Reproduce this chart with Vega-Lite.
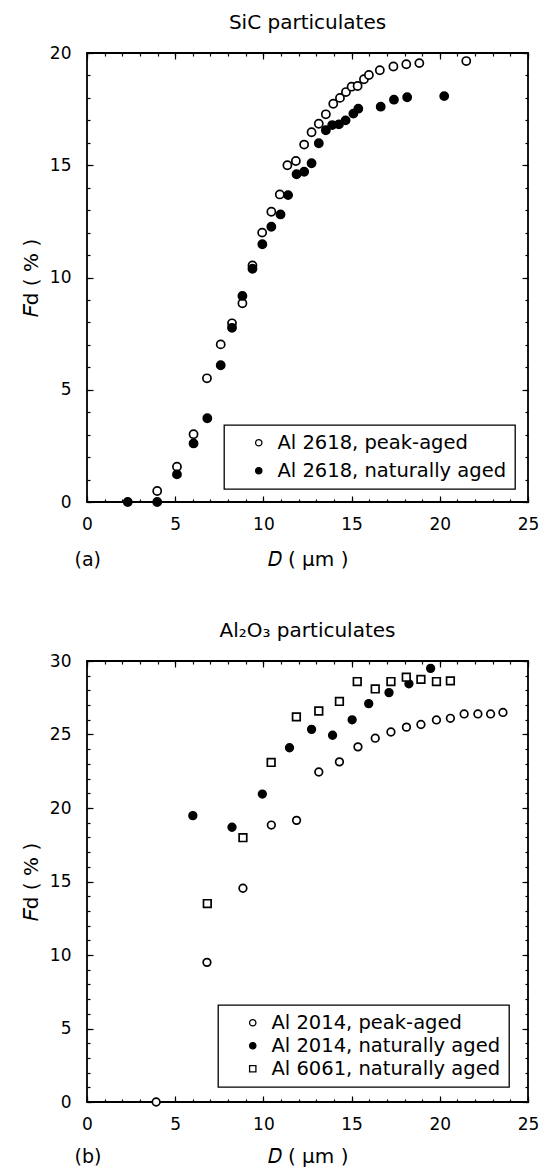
{
  "$schema": "https://vega.github.io/schema/vega-lite/v6.json",
  "padding": {"left": 20, "top": 12, "right": 0, "bottom": 0},
  "background": "white",
  "spacing": 50,
  "resolve": {"scale": {"fill": "independent", "shape": "independent", "stroke": "independent"}, "legend": {"fill": "independent", "shape": "independent", "stroke": "independent"}},
  "config": {
    "font": "DejaVu Sans",
    "view": {"stroke": "black", "strokeWidth": 1.8},
    "axis": {
      "domain": false, "grid": false, "tickColor": "black", "tickWidth": 1.2,
      "labelFont": "DejaVu Sans", "labelFontSize": 17, "labelColor": "black",
      "titleFont": "DejaVu Sans", "titleFontSize": 20, "titleFontWeight": "normal", "titleColor": "black",
      "labelFlush": false, "labelOverlap": false
    },
    "legend": {
      "title": null, "orient": "none", "strokeColor": "black", "fillColor": "white", "strokeWidth": 1.3,
      "padding": 8, "symbolOffset": 17, "labelOffset": 9, "symbolSize": 40,
      "symbolStrokeColor": "black", "symbolStrokeWidth": 1.3,
      "labelFontSize": 19.5, "labelFont": "DejaVu Sans", "labelColor": "black", "labelLimit": 400
    },
    "title": {"font": "DejaVu Sans", "fontSize": 20, "fontWeight": "normal", "color": "black", "offset": 11}
  },
  "vconcat": [
    {
      "title": "SiC particulates",
      "width": 441,
      "height": 449,
      "data": {"values": [
        {"D": 3.98, "F": 0.49, "s": "Al 2618, peak-aged"},
        {"D": 5.1, "F": 1.57, "s": "Al 2618, peak-aged"},
        {"D": 6.04, "F": 3.02, "s": "Al 2618, peak-aged"},
        {"D": 6.8, "F": 5.51, "s": "Al 2618, peak-aged"},
        {"D": 7.58, "F": 7.02, "s": "Al 2618, peak-aged"},
        {"D": 8.22, "F": 7.96, "s": "Al 2618, peak-aged"},
        {"D": 8.81, "F": 8.85, "s": "Al 2618, peak-aged"},
        {"D": 9.38, "F": 10.54, "s": "Al 2618, peak-aged"},
        {"D": 9.93, "F": 12.0, "s": "Al 2618, peak-aged"},
        {"D": 10.45, "F": 12.93, "s": "Al 2618, peak-aged"},
        {"D": 10.93, "F": 13.7, "s": "Al 2618, peak-aged"},
        {"D": 11.36, "F": 15.0, "s": "Al 2618, peak-aged"},
        {"D": 11.84, "F": 15.19, "s": "Al 2618, peak-aged"},
        {"D": 12.31, "F": 15.92, "s": "Al 2618, peak-aged"},
        {"D": 12.73, "F": 16.47, "s": "Al 2618, peak-aged"},
        {"D": 13.14, "F": 16.85, "s": "Al 2618, peak-aged"},
        {"D": 13.54, "F": 17.27, "s": "Al 2618, peak-aged"},
        {"D": 13.96, "F": 17.74, "s": "Al 2618, peak-aged"},
        {"D": 14.34, "F": 18.0, "s": "Al 2618, peak-aged"},
        {"D": 14.68, "F": 18.26, "s": "Al 2618, peak-aged"},
        {"D": 15.0, "F": 18.5, "s": "Al 2618, peak-aged"},
        {"D": 15.34, "F": 18.53, "s": "Al 2618, peak-aged"},
        {"D": 15.7, "F": 18.83, "s": "Al 2618, peak-aged"},
        {"D": 15.98, "F": 19.02, "s": "Al 2618, peak-aged"},
        {"D": 16.6, "F": 19.23, "s": "Al 2618, peak-aged"},
        {"D": 17.37, "F": 19.4, "s": "Al 2618, peak-aged"},
        {"D": 18.1, "F": 19.5, "s": "Al 2618, peak-aged"},
        {"D": 18.84, "F": 19.55, "s": "Al 2618, peak-aged"},
        {"D": 21.5, "F": 19.64, "s": "Al 2618, peak-aged"},
        {"D": 2.31, "F": 0.0, "s": "Al 2618, naturally aged"},
        {"D": 3.98, "F": 0.0, "s": "Al 2618, naturally aged"},
        {"D": 5.1, "F": 1.23, "s": "Al 2618, naturally aged"},
        {"D": 6.04, "F": 2.61, "s": "Al 2618, naturally aged"},
        {"D": 6.82, "F": 3.73, "s": "Al 2618, naturally aged"},
        {"D": 7.58, "F": 6.09, "s": "Al 2618, naturally aged"},
        {"D": 8.22, "F": 7.76, "s": "Al 2618, naturally aged"},
        {"D": 8.81, "F": 9.18, "s": "Al 2618, naturally aged"},
        {"D": 9.38, "F": 10.39, "s": "Al 2618, naturally aged"},
        {"D": 9.94, "F": 11.48, "s": "Al 2618, naturally aged"},
        {"D": 10.45, "F": 12.26, "s": "Al 2618, naturally aged"},
        {"D": 10.97, "F": 12.81, "s": "Al 2618, naturally aged"},
        {"D": 11.4, "F": 13.67, "s": "Al 2618, naturally aged"},
        {"D": 11.88, "F": 14.6, "s": "Al 2618, naturally aged"},
        {"D": 12.31, "F": 14.71, "s": "Al 2618, naturally aged"},
        {"D": 12.73, "F": 15.09, "s": "Al 2618, naturally aged"},
        {"D": 13.14, "F": 15.98, "s": "Al 2618, naturally aged"},
        {"D": 13.54, "F": 16.56, "s": "Al 2618, naturally aged"},
        {"D": 13.9, "F": 16.79, "s": "Al 2618, naturally aged"},
        {"D": 14.28, "F": 16.82, "s": "Al 2618, naturally aged"},
        {"D": 14.66, "F": 17.0, "s": "Al 2618, naturally aged"},
        {"D": 15.1, "F": 17.3, "s": "Al 2618, naturally aged"},
        {"D": 15.38, "F": 17.52, "s": "Al 2618, naturally aged"},
        {"D": 16.65, "F": 17.61, "s": "Al 2618, naturally aged"},
        {"D": 17.4, "F": 17.92, "s": "Al 2618, naturally aged"},
        {"D": 18.15, "F": 18.03, "s": "Al 2618, naturally aged"},
        {"D": 20.25, "F": 18.08, "s": "Al 2618, naturally aged"}
      ]},
      "resolve": {"axis": {"x": "independent", "y": "independent"}},
      "layer": [
        {
          "mark": {"type": "point", "shape": "circle", "filled": true, "size": 66, "stroke": "black", "strokeWidth": 1.7, "opacity": 1},
          "encoding": {
            "x": {"field": "D", "type": "quantitative", "scale": {"domain": [0, 25], "nice": false, "zero": false},
              "axis": {"orient": "bottom", "values": [0, 5, 10, 15, 20, 25], "tickSize": -6, "labelPadding": 20, "title": "𝐷 ( μm )", "titleY": 57, "titleBaseline": "middle"}},
            "y": {"field": "F", "type": "quantitative", "scale": {"domain": [0, 20], "nice": false, "zero": false},
              "axis": {"orient": "left", "values": [0, 5, 10, 15, 20], "tickSize": -6, "labelPadding": 22, "title": "𝐹d ( % )", "titleX": -56, "titleBaseline": "middle"}},
            "fill": {"field": "s", "type": "nominal",
              "scale": {"domain": ["Al 2618, peak-aged", "Al 2618, naturally aged"], "range": ["white", "black"]},
              "legend": {"legendX": 137, "legendY": 372, "rowPadding": 7, "symbolType": "circle"}}
          }
        },
        {
          "mark": {"type": "point", "opacity": 0},
          "encoding": {
            "x": {"field": "D", "type": "quantitative",
              "axis": {"orient": "bottom", "values": [0,1,2,3,4,5,6,7,8,9,10,11,12,13,14,15,16,17,18,19,20,21,22,23,24,25], "tickSize": -3, "labels": false, "title": "(a)", "titleX": -13, "titleY": 57, "titleAlign": "left", "titleBaseline": "middle", "titleFontSize": 19}},
            "y": {"field": "F", "type": "quantitative",
              "axis": {"orient": "left", "values": [0,1,2,3,4,5,6,7,8,9,10,11,12,13,14,15,16,17,18,19,20], "tickSize": -3, "labels": false, "title": null}}
          }
        },
        {
          "mark": {"type": "point", "opacity": 0},
          "encoding": {
            "x": {"field": "D", "type": "quantitative",
              "axis": {"orient": "top", "values": [0, 5, 10, 15, 20, 25], "tickSize": -6, "labels": false, "title": null}},
            "y": {"field": "F", "type": "quantitative",
              "axis": {"orient": "right", "values": [0, 5, 10, 15, 20], "tickSize": -6, "labels": false, "title": null}}
          }
        },
        {
          "mark": {"type": "point", "opacity": 0},
          "encoding": {
            "x": {"field": "D", "type": "quantitative",
              "axis": {"orient": "top", "values": [0,1,2,3,4,5,6,7,8,9,10,11,12,13,14,15,16,17,18,19,20,21,22,23,24,25], "tickSize": -3, "labels": false, "title": null}},
            "y": {"field": "F", "type": "quantitative",
              "axis": {"orient": "right", "values": [0,1,2,3,4,5,6,7,8,9,10,11,12,13,14,15,16,17,18,19,20], "tickSize": -3, "labels": false, "title": null}}
          }
        }
      ]
    },
    {
      "title": "Al₂O₃ particulates",
      "width": 441,
      "height": 441,
      "data": {"values": [
        {"D": 3.92, "F": 0.0, "s": "Al 2014, peak-aged"},
        {"D": 6.8, "F": 9.5, "s": "Al 2014, peak-aged"},
        {"D": 8.84, "F": 14.54, "s": "Al 2014, peak-aged"},
        {"D": 10.45, "F": 18.84, "s": "Al 2014, peak-aged"},
        {"D": 11.88, "F": 19.16, "s": "Al 2014, peak-aged"},
        {"D": 13.14, "F": 22.45, "s": "Al 2014, peak-aged"},
        {"D": 14.31, "F": 23.14, "s": "Al 2014, peak-aged"},
        {"D": 15.36, "F": 24.16, "s": "Al 2014, peak-aged"},
        {"D": 16.34, "F": 24.75, "s": "Al 2014, peak-aged"},
        {"D": 17.23, "F": 25.17, "s": "Al 2014, peak-aged"},
        {"D": 18.11, "F": 25.5, "s": "Al 2014, peak-aged"},
        {"D": 18.93, "F": 25.68, "s": "Al 2014, peak-aged"},
        {"D": 19.81, "F": 25.99, "s": "Al 2014, peak-aged"},
        {"D": 20.6, "F": 26.1, "s": "Al 2014, peak-aged"},
        {"D": 21.38, "F": 26.4, "s": "Al 2014, peak-aged"},
        {"D": 22.16, "F": 26.4, "s": "Al 2014, peak-aged"},
        {"D": 22.88, "F": 26.4, "s": "Al 2014, peak-aged"},
        {"D": 23.58, "F": 26.5, "s": "Al 2014, peak-aged"},
        {"D": 6.0, "F": 19.48, "s": "Al 2014, naturally aged"},
        {"D": 8.22, "F": 18.69, "s": "Al 2014, naturally aged"},
        {"D": 9.94, "F": 20.95, "s": "Al 2014, naturally aged"},
        {"D": 11.48, "F": 24.1, "s": "Al 2014, naturally aged"},
        {"D": 12.73, "F": 25.35, "s": "Al 2014, naturally aged"},
        {"D": 13.92, "F": 24.95, "s": "Al 2014, naturally aged"},
        {"D": 15.03, "F": 26.0, "s": "Al 2014, naturally aged"},
        {"D": 15.97, "F": 27.1, "s": "Al 2014, naturally aged"},
        {"D": 17.12, "F": 27.85, "s": "Al 2014, naturally aged"},
        {"D": 18.25, "F": 28.45, "s": "Al 2014, naturally aged"},
        {"D": 19.48, "F": 29.5, "s": "Al 2014, naturally aged"},
        {"D": 6.82, "F": 13.5, "s": "Al 6061, naturally aged"},
        {"D": 8.84, "F": 17.98, "s": "Al 6061, naturally aged"},
        {"D": 10.44, "F": 23.1, "s": "Al 6061, naturally aged"},
        {"D": 11.87, "F": 26.2, "s": "Al 6061, naturally aged"},
        {"D": 13.14, "F": 26.6, "s": "Al 6061, naturally aged"},
        {"D": 14.31, "F": 27.25, "s": "Al 6061, naturally aged"},
        {"D": 15.32, "F": 28.6, "s": "Al 6061, naturally aged"},
        {"D": 16.34, "F": 28.1, "s": "Al 6061, naturally aged"},
        {"D": 17.23, "F": 28.6, "s": "Al 6061, naturally aged"},
        {"D": 18.1, "F": 28.9, "s": "Al 6061, naturally aged"},
        {"D": 18.93, "F": 28.75, "s": "Al 6061, naturally aged"},
        {"D": 19.81, "F": 28.6, "s": "Al 6061, naturally aged"},
        {"D": 20.6, "F": 28.65, "s": "Al 6061, naturally aged"}
      ]},
      "resolve": {"axis": {"x": "independent", "y": "independent"}},
      "layer": [
        {
          "mark": {"type": "point", "filled": true, "size": 58, "strokeWidth": 1.7, "opacity": 1},
          "encoding": {
            "x": {"field": "D", "type": "quantitative", "scale": {"domain": [0, 25], "nice": false, "zero": false},
              "axis": {"orient": "bottom", "values": [0, 5, 10, 15, 20, 25], "tickSize": -6, "labelPadding": 20, "title": "𝐷 ( μm )", "titleY": 54, "titleBaseline": "middle"}},
            "y": {"field": "F", "type": "quantitative", "scale": {"domain": [0, 30], "nice": false, "zero": false},
              "axis": {"orient": "left", "values": [0, 5, 10, 15, 20, 25, 30], "tickSize": -6, "labelPadding": 22, "title": "𝐹d ( % )", "titleX": -56, "titleBaseline": "middle"}},
            "fill": {"field": "s", "type": "nominal",
              "scale": {"domain": ["Al 2014, peak-aged", "Al 2014, naturally aged", "Al 6061, naturally aged"], "range": ["white", "black", "white"]},
              "legend": {"legendX": 131, "legendY": 344, "rowPadding": 2}},
            "stroke": {"field": "s", "type": "nominal",
              "scale": {"domain": ["Al 2014, peak-aged", "Al 2014, naturally aged", "Al 6061, naturally aged"], "range": ["black", "black", "black"]},
              "legend": {"legendX": 131, "legendY": 344, "rowPadding": 2}},
            "shape": {"field": "s", "type": "nominal",
              "scale": {"domain": ["Al 2014, peak-aged", "Al 2014, naturally aged", "Al 6061, naturally aged"], "range": ["circle", "circle", "square"]},
              "legend": {"legendX": 131, "legendY": 344, "rowPadding": 2}}
          }
        },
        {
          "mark": {"type": "point", "opacity": 0},
          "encoding": {
            "x": {"field": "D", "type": "quantitative",
              "axis": {"orient": "bottom", "values": [0,1,2,3,4,5,6,7,8,9,10,11,12,13,14,15,16,17,18,19,20,21,22,23,24,25], "tickSize": -3, "labels": false, "title": "(b)", "titleX": -13, "titleY": 54, "titleAlign": "left", "titleBaseline": "middle", "titleFontSize": 19}},
            "y": {"field": "F", "type": "quantitative",
              "axis": {"orient": "left", "values": [0,1,2,3,4,5,6,7,8,9,10,11,12,13,14,15,16,17,18,19,20,21,22,23,24,25,26,27,28,29,30], "tickSize": -3, "labels": false, "title": null}}
          }
        },
        {
          "mark": {"type": "point", "opacity": 0},
          "encoding": {
            "x": {"field": "D", "type": "quantitative",
              "axis": {"orient": "top", "values": [0, 5, 10, 15, 20, 25], "tickSize": -6, "labels": false, "title": null}},
            "y": {"field": "F", "type": "quantitative",
              "axis": {"orient": "right", "values": [0, 5, 10, 15, 20, 25, 30], "tickSize": -6, "labels": false, "title": null}}
          }
        },
        {
          "mark": {"type": "point", "opacity": 0},
          "encoding": {
            "x": {"field": "D", "type": "quantitative",
              "axis": {"orient": "top", "values": [0,1,2,3,4,5,6,7,8,9,10,11,12,13,14,15,16,17,18,19,20,21,22,23,24,25], "tickSize": -3, "labels": false, "title": null}},
            "y": {"field": "F", "type": "quantitative",
              "axis": {"orient": "right", "values": [0,1,2,3,4,5,6,7,8,9,10,11,12,13,14,15,16,17,18,19,20,21,22,23,24,25,26,27,28,29,30], "tickSize": -3, "labels": false, "title": null}}
          }
        }
      ]
    }
  ]
}
